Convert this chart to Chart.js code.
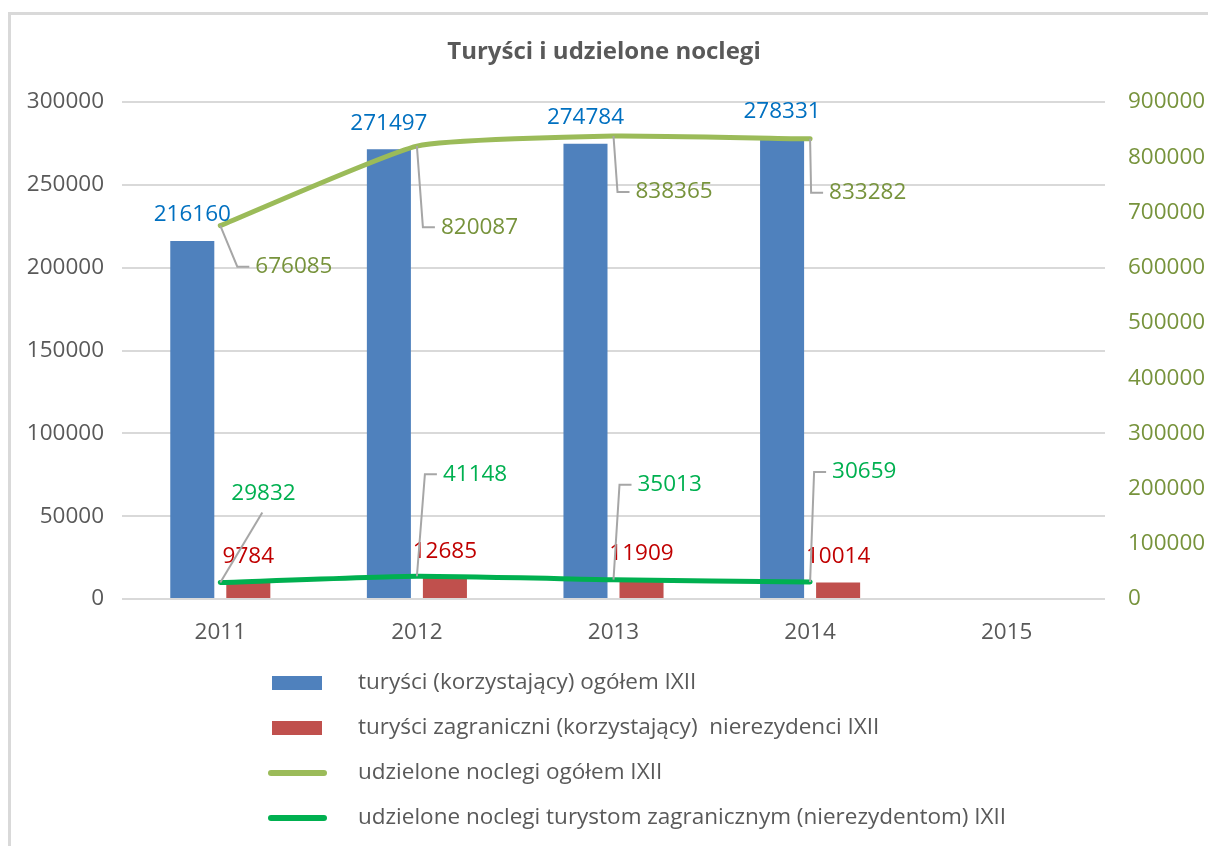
<!DOCTYPE html>
<html><head><meta charset="utf-8">
<script src="https://cdn.jsdelivr.net/npm/chart.js@4.4.1/dist/chart.umd.min.js"></script>
<style>html,body{margin:0;padding:0;background:#fff;}</style>
</head><body>
<canvas id="c" width="1208" height="846"></canvas>
<script>
// ---- data ----
const years = ['2011', '2012', '2013', '2014', '2015'];
const touristsTotal = [216160, 271497, 274784, 278331, null];
const touristsForeign = [9784, 12685, 11909, 10014, null];
const nightsTotal = [676085, 820087, 838365, 833282, null];
const nightsForeign = [29832, 41148, 35013, 30659, null];
const seriesNames = [
  'turyści (korzystający) ogółem IXII',
  'turyści zagraniczni (korzystający)  nierezydenci IXII',
  'udzielone noclegi ogółem IXII',
  'udzielone noclegi turystom zagranicznym (nierezydentom) IXII'
];
const chartTitle = 'Turyści i udzielone noclegi';

// ---- styles ----
const FAM = '"Open Sans", "Noto Sans", sans-serif';
const FS = 22.5;
const GREY = '#595959';
const colBlue = '#4F81BD', colRed = '#C0504D', colOlive = '#9BBB59', colGreen = '#00B050';
// label placement offsets (pixels from the data point): [dx to label left, dy to label centre]
const nightsTotalLabelOff = [[35, 41], [24, 81], [22, 56], [19, 54]];
const nightsForeignLabelOff = [[11, -89], [26, -102], [24, -95], [22, -110]];

const borderPlugin = {
  id: 'frame',
  beforeDraw(chart) {
    const ctx = chart.ctx;
    ctx.save();
    ctx.fillStyle = '#fff';
    ctx.fillRect(0, 0, chart.width, chart.height);
    ctx.strokeStyle = '#D9D9D9';
    ctx.lineWidth = 3;
    ctx.strokeRect(9.5, 13.5, 1400, 1000);
    ctx.restore();
  }
};

const labelPlugin = {
  id: 'dataLabels',
  afterDatasetsDraw(chart) {
    const ctx = chart.ctx;
    ctx.save();
    ctx.font = FS + 'px ' + FAM;
    ctx.textBaseline = 'middle';
    // bar labels
    [[0, '#0070C0'], [1, '#C00000']].forEach(([di, col]) => {
      const meta = chart.getDatasetMeta(di);
      const d = chart.data.datasets[di].data;
      meta.data.forEach((el, j) => {
        if (d[j] == null) return;
        ctx.fillStyle = col;
        ctx.textAlign = 'center';
        ctx.fillText(String(d[j]), el.x, el.y - 26);
      });
    });
    // line labels with leader lines
    const doLine = (di, offs, col, firstBelow) => {
      const meta = chart.getDatasetMeta(di);
      const d = chart.data.datasets[di].data;
      meta.data.forEach((el, j) => {
        if (d[j] == null) return;
        const [dx, dy] = offs[j];
        const lx = el.x + dx, ly = el.y + dy;
        ctx.strokeStyle = '#A6A6A6';
        ctx.lineWidth = 2;
        ctx.beginPath();
        ctx.moveTo(el.x, el.y);
        if (firstBelow && j === 0) {
          ctx.lineTo(lx + 31, ly + 19);
        } else {
          ctx.lineTo(lx - 18, ly);
          ctx.lineTo(lx - 6, ly);
        }
        ctx.stroke();
        ctx.fillStyle = col;
        ctx.textAlign = 'left';
        ctx.fillText(String(d[j]), lx, ly);
      });
    };
    doLine(2, nightsTotalLabelOff, '#77933C', false);
    doLine(3, nightsForeignLabelOff, colGreen, true);
    ctx.restore();
  }
};

const legendPlugin = {
  id: 'vlegend',
  afterDraw(chart) {
    const ctx = chart.ctx;
    ctx.save();
    ctx.font = FS + 'px ' + FAM;
    ctx.textBaseline = 'middle';
    ctx.textAlign = 'left';
    const rows = [683, 728, 773, 818];
    chart.data.datasets.forEach((ds, i) => {
      const cy = rows[i];
      if (ds.type === 'line') {
        ctx.strokeStyle = ds.borderColor;
        ctx.lineWidth = 6;
        ctx.lineCap = 'round';
        ctx.beginPath();
        ctx.moveTo(271, cy);
        ctx.lineTo(324, cy);
        ctx.stroke();
      } else {
        ctx.fillStyle = ds.backgroundColor;
        ctx.fillRect(272, cy - 7, 50, 14);
      }
      ctx.fillStyle = GREY;
      ctx.fillText(ds.label, 358, cy);
    });
    ctx.restore();
  }
};

const plainTick = v => String(v);

new Chart(document.getElementById('c'), {
  data: {
    labels: years,
    datasets: [
      { type: 'bar', label: seriesNames[0], data: touristsTotal, backgroundColor: colBlue, yAxisID: 'y', order: 2,
        categoryPercentage: 0.57, barPercentage: 0.786 },
      { type: 'bar', label: seriesNames[1], data: touristsForeign, backgroundColor: colRed, yAxisID: 'y', order: 2,
        categoryPercentage: 0.57, barPercentage: 0.786 },
      { type: 'line', label: seriesNames[2], data: nightsTotal, borderColor: colOlive, backgroundColor: colOlive,
        borderWidth: 5, pointRadius: 0, tension: 0.15, borderCapStyle: 'round', yAxisID: 'y1', order: 1 },
      { type: 'line', label: seriesNames[3], data: nightsForeign, borderColor: colGreen, backgroundColor: colGreen,
        borderWidth: 5, pointRadius: 0, tension: 0.15, borderCapStyle: 'round', yAxisID: 'y1', order: 0 }
    ]
  },
  options: {
    responsive: false,
    animation: false,
    events: [],
    layout: { padding: { left: 0, right: 0, top: 0, bottom: 187 } },
    plugins: {
      legend: { display: false },
      tooltip: { enabled: false },
      title: {
        display: true, text: chartTitle, color: GREY,
        font: { family: FAM, size: 24, weight: 'bold', lineHeight: 1.2 },
        padding: { top: 37.6, bottom: 35.6 }
      }
    },
    scales: {
      x: {
        grid: { display: false, drawTicks: false }, border: { display: false },
        ticks: { color: GREY, font: { family: FAM, size: FS }, padding: 20 },
        afterFit(s) { s.height = 60; }
      },
      y: {
        position: 'left', min: 0, max: 300000,
        ticks: { stepSize: 50000, color: GREY, font: { family: FAM, size: FS }, padding: 18, callback: plainTick },
        grid: { color: '#D9D9D9', lineWidth: 2, drawTicks: false }, border: { display: false },
        afterFit(s) { s.width = 122; }
      },
      y1: {
        position: 'right', min: 0, max: 900000,
        ticks: { stepSize: 100000, color: '#77933C', font: { family: FAM, size: FS }, padding: 23, callback: plainTick },
        grid: { display: false, drawTicks: false }, border: { display: false },
        afterFit(s) { s.width = 103; }
      }
    }
  },
  plugins: [borderPlugin, labelPlugin, legendPlugin]
});
</script>
</body></html>
